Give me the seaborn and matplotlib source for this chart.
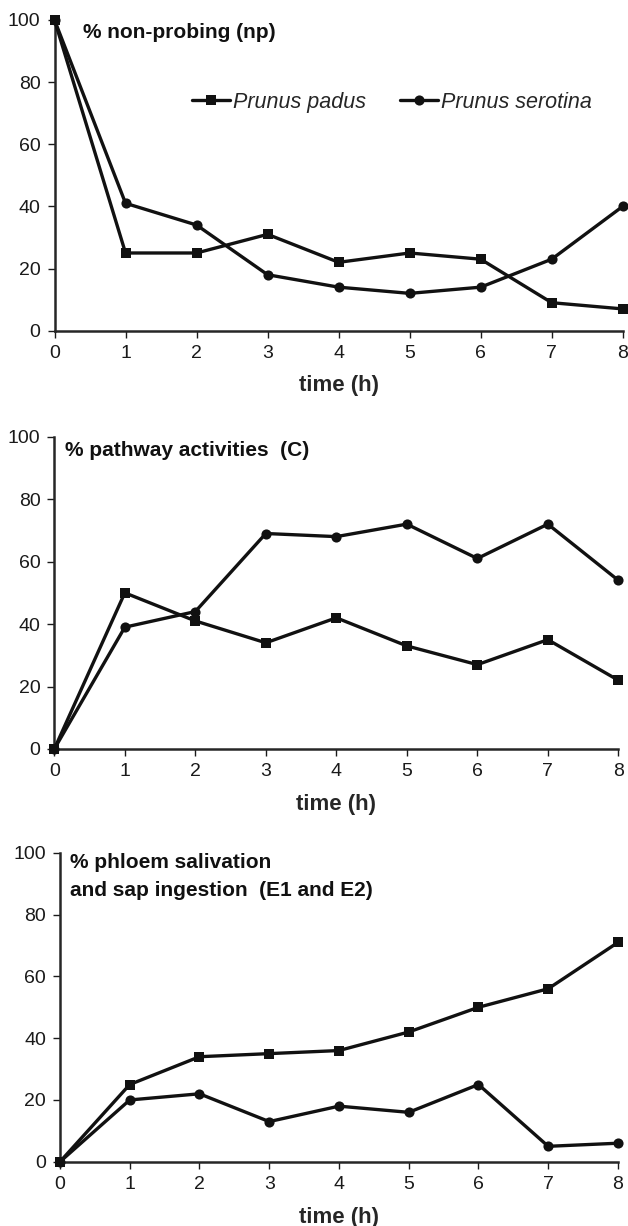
import pandas as pd
import seaborn as sns
import matplotlib
matplotlib.use("Agg")
import matplotlib.pyplot as plt

# data
hours = [0, 1, 2, 3, 4, 5, 6, 7, 8]
species = ["Prunus padus", "Prunus serotina"]

np_padus = [100, 25, 25, 31, 22, 25, 23, 9, 7]
np_serotina = [100, 41, 34, 18, 14, 12, 14, 23, 40]

c_padus = [0, 50, 41, 34, 42, 33, 27, 35, 22]
c_serotina = [0, 39, 44, 69, 68, 72, 61, 72, 54]

e_padus = [0, 25, 34, 35, 36, 42, 50, 56, 71]
e_serotina = [0, 20, 22, 13, 18, 16, 25, 5, 6]

panel_titles = [
    "% non-probing (np)",
    "% pathway activities  (C)",
    "% phloem salivation\nand sap ingestion  (E1 and E2)",
]
panel_data = [
    (np_padus, np_serotina),
    (c_padus, c_serotina),
    (e_padus, e_serotina),
]
yticks = [0, 20, 40, 60, 80, 100]


def make_frame(padus, serotina):
    rows = []
    for name, vals in zip(species, (padus, serotina)):
        for t, v in zip(hours, vals):
            rows.append({"time": t, "percent": v, "species": name})
    return pd.DataFrame(rows)


sns.set_style("ticks")
plt.rcParams["font.family"] = ["Liberation Sans", "DejaVu Sans"]
plt.rcParams["axes.linewidth"] = 1.8
plt.rcParams["xtick.major.width"] = 1.0
plt.rcParams["ytick.major.width"] = 1.0
plt.rcParams["xtick.major.size"] = 5
plt.rcParams["ytick.major.size"] = 5
plt.rcParams["xtick.color"] = "#1a1a1a"
plt.rcParams["ytick.color"] = "#1a1a1a"

fig = plt.figure(figsize=(6.28, 12.26), dpi=100)

boxes = [
    (0.0868, 0.7303, 0.9048, 0.2534),
    (0.0865, 0.3891, 0.8981, 0.2547),
    (0.0955, 0.0524, 0.8885, 0.2520),
]
title_pos = [(0.05, 0.99), (0.019, 0.987), (0.018, 0.998)]

for i, (box, title, (padus, serotina)) in enumerate(zip(boxes, panel_titles, panel_data)):
    ax = fig.add_axes(box)
    df = make_frame(padus, serotina)
    sns.lineplot(
        data=df, x="time", y="percent", style="species",
        markers={"Prunus padus": "s", "Prunus serotina": "o"},
        dashes=False, color="#111111", linewidth=2.4, markersize=7.3,
        markeredgewidth=0, legend=False, ax=ax, clip_on=False, zorder=5,
    )
    ax.set_xlim(0, 8)
    ax.set_ylim(0, 100)
    ax.set_xticks(hours)
    ax.set_yticks(yticks)
    ax.tick_params(axis="both", labelsize=14, pad=5)
    sns.despine(ax=ax)
    ax.set_ylabel("")
    ax.set_xlabel("time (h)", fontsize=16, fontweight="bold", labelpad=10)
    ax.text(title_pos[i][0], title_pos[i][1], title, transform=ax.transAxes,
            fontsize=15, fontweight="bold", ha="left", va="top",
            linespacing=1.55, color="#111111")

    if i == 0:
        ax.legend(ax.lines[:2], species, loc="center left",
                  bbox_to_anchor=(0.242, 0.736), frameon=False,
                  borderpad=0, borderaxespad=0, ncol=2,
                  handlelength=1.75, handletextpad=0.15, columnspacing=1.6,
                  prop={"size": 15.5, "style": "italic"})

fig.savefig("out.png", dpi=100)
